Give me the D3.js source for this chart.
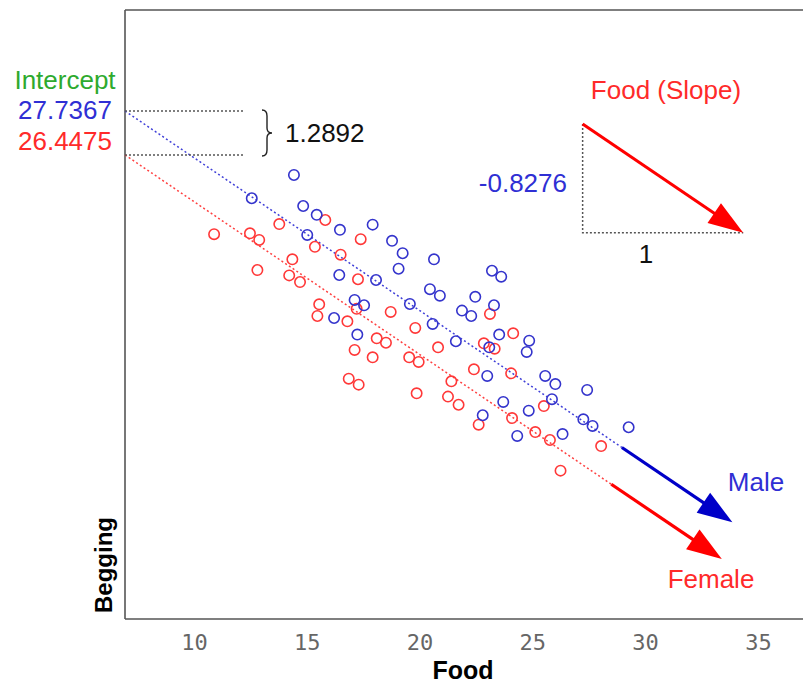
<!DOCTYPE html>
<html>
<head>
<meta charset="utf-8">
<script src="https://cdn.jsdelivr.net/npm/d3@7"></script>
<style>
  body { margin: 0; background: #fff; }
  svg { display: block; }
  text { font-family: "Liberation Sans", Arial, sans-serif; }
</style>
</head>
<body>
<svg id="chart" width="803" height="683"></svg>
<script>
// ---------- data ----------
const xTicks = [10, 15, 20, 25, 30, 35];

const maleFood = [14.43, 12.56, 14.84, 15.44, 16.47, 17.92, 15.02, 18.78, 19.25, 20.64,
  19.07, 16.44, 18.07, 22.47, 20.46, 20.90, 17.12, 17.54, 19.57, 21.88,
  22.29, 16.21, 20.58, 17.24, 21.61, 23.21, 23.62, 23.30, 23.53, 24.86,
  24.75, 23.09, 23.00, 25.57, 26.02, 27.43, 25.87, 23.71, 24.84, 22.80,
  27.26, 27.67, 29.27, 26.34, 24.33];
const maleBegging = [24.06, 22.80, 22.38, 21.90, 21.09, 21.37, 20.81, 20.49, 19.82, 19.49,
  18.98, 18.64, 18.37, 17.46, 17.87, 17.52, 17.29, 17.00, 17.07, 16.71,
  16.42, 16.31, 15.99, 15.41, 15.05, 18.87, 18.55, 17.00, 15.41, 15.08,
  14.47, 14.72, 13.17, 13.17, 12.73, 12.41, 11.91, 11.76, 11.29, 11.04,
  10.82, 10.46, 10.39, 10.02, 9.92];

const femaleFood = [10.89, 12.48, 12.89, 13.78, 15.82, 17.39, 15.36, 16.50, 14.36, 12.81,
  14.22, 14.70, 17.27, 18.72, 15.55, 15.47, 17.21, 16.80, 19.81, 18.10,
  18.51, 17.12, 17.92, 20.82, 19.54, 19.96, 22.41, 16.86, 17.30, 21.41,
  19.87, 21.26, 23.12, 24.15, 22.85, 23.33, 24.06, 21.73, 25.51, 24.10,
  22.62, 25.13, 25.78, 28.05, 26.25];
const femaleBegging = [20.85, 20.90, 20.54, 21.40, 21.62, 20.58, 20.17, 19.74, 19.49, 18.91,
  18.62, 18.26, 18.41, 16.64, 17.05, 16.42, 16.81, 16.13, 15.77, 15.21,
  14.97, 14.58, 14.18, 14.72, 14.18, 13.93, 13.53, 13.02, 12.70, 12.88,
  12.23, 12.05, 16.53, 15.48, 14.94, 14.65, 13.31, 11.61, 11.54, 10.89,
  10.53, 10.13, 9.70, 9.37, 8.04];

// fitted lines as drawn (in plot units): intercept, slope, dotted end, arrow tip
const groups = ["Male", "Female"];
const lineIntercept = [33.27, 30.89];
const lineSlope = [-0.8276, -0.8276];
const dottedEnd = [28.97, 28.5];
const arrowEnd = [33.87, 33.4];

// annotation texts
const interceptLabels = ["27.7367", "26.4475"];
const interceptDiffLabel = "1.2892";
const slopeLabel = "-0.8276";
const slopeRunLabel = "1";
const slopeTriangle = { x0: 27.23, x1: 34.35, yTop: 26.82 }; // plot units

// ---------- drawing ----------
const svg = d3.select("#chart");
const pLeft = 125, pRight = 803, pTop = 10, pBottom = 619;
const xMin = 6.94, xMax = 37.0;
const x = d3.scaleLinear().domain([xMin, xMax]).range([pLeft, pRight]);
const y = d3.scaleLinear().domain([0, 33]).range([pBottom, pTop]);

const BLUE = "#2f2fd4", RED = "#ff2a2a", GREEN = "#2eaa2e";
const colors = ["#3434cc", "#ff3838"];
const dotLineColors = ["#4040d8", "#ff4040"];
const arrowColors = ["#0000c8", "#ff0000"];
const FS = "26px";

// frame
const frame = svg.append("g").attr("stroke", "#555").attr("stroke-width", 1.6).attr("fill", "none");
frame.append("line").attr("x1", pLeft).attr("x2", pRight).attr("y1", pTop).attr("y2", pTop);
frame.append("line").attr("x1", pLeft).attr("x2", pLeft).attr("y1", pTop).attr("y2", pBottom);
frame.append("line").attr("x1", pLeft).attr("x2", pRight).attr("y1", pBottom).attr("y2", pBottom);

// x tick labels
const xAxis = d3.axisBottom(x).tickValues(xTicks).tickSize(0).tickPadding(0).tickFormat(d3.format("d"));
const gx = svg.append("g").attr("transform", `translate(0,${pBottom})`).call(xAxis);
gx.select(".domain").remove();
gx.selectAll("text")
  .attr("y", 31).attr("dy", 0)
  .style("font-family", "'DejaVu Sans Mono', 'Liberation Mono', monospace")
  .style("font-size", "22px")
  .attr("fill", "#666");

// axis titles
svg.append("text").attr("x", 463).attr("y", 679).attr("text-anchor", "middle")
  .style("font-size", "25px").style("font-weight", "bold").attr("fill", "#000").text("Food");
svg.append("text").attr("transform", "translate(112,565) rotate(-90)").attr("text-anchor", "middle")
  .style("font-size", "24px").style("font-weight", "bold").attr("fill", "#000").text("Begging");

// helper: arrow with filled head in pixel space
function arrow(g, x1, y1, x2, y2, color, width) {
  const dx = x2 - x1, dy = y2 - y1, L = Math.hypot(dx, dy);
  const ux = dx / L, uy = dy / L;
  const headLen = 35, halfW = 12;
  const bx = x2 - ux * headLen, by = y2 - uy * headLen;
  g.append("line").attr("x1", x1).attr("y1", y1)
    .attr("x2", x2 - ux * (headLen - 4)).attr("y2", y2 - uy * (headLen - 4))
    .attr("stroke", color).attr("stroke-width", width);
  g.append("path")
    .attr("d", `M${x2},${y2}L${bx - uy * halfW},${by + ux * halfW}L${bx + uy * halfW},${by - ux * halfW}Z`)
    .attr("fill", color);
}

// regression lines
const lines = svg.append("g");
groups.forEach((gname, i) => {
  const f = v => lineIntercept[i] + lineSlope[i] * v;
  lines.append("line")
    .attr("x1", x(xMin)).attr("y1", y(f(xMin)))
    .attr("x2", x(dottedEnd[i])).attr("y2", y(f(dottedEnd[i])))
    .attr("stroke", dotLineColors[i]).attr("stroke-width", 1.5)
    .attr("stroke-dasharray", "2,2.5");
  arrow(lines, x(dottedEnd[i]), y(f(dottedEnd[i])), x(arrowEnd[i]), y(f(arrowEnd[i])), arrowColors[i], 3.2);
});

// points
const series = [
  maleFood.map((d, i) => ({ f: d, b: maleBegging[i] })),
  femaleFood.map((d, i) => ({ f: d, b: femaleBegging[i] }))
];
[1, 0].forEach(i => {
  svg.append("g").selectAll("circle").data(series[i]).join("circle")
    .attr("cx", d => x(d.f)).attr("cy", d => y(d.b)).attr("r", 5.2)
    .attr("fill", "none").attr("stroke", colors[i]).attr("stroke-width", 1.6);
});

// intercept annotations
const yM = y(lineIntercept[0] + lineSlope[0] * xMin);
const yF = y(lineIntercept[1] + lineSlope[1] * xMin);
[yM, yF].forEach(yy => {
  svg.append("line").attr("x1", pLeft).attr("x2", 245).attr("y1", yy).attr("y2", yy)
    .attr("stroke", "#555").attr("stroke-width", 1.5).attr("stroke-dasharray", "2,2");
});
svg.append("text").attr("x", 65).attr("y", 89).attr("text-anchor", "middle")
  .style("font-size", FS).attr("fill", GREEN).text("Intercept");
svg.append("text").attr("x", 65).attr("y", 119).attr("text-anchor", "middle")
  .style("font-size", FS).attr("fill", BLUE).text(interceptLabels[0]);
svg.append("text").attr("x", 65).attr("y", 150).attr("text-anchor", "middle")
  .style("font-size", FS).attr("fill", RED).text(interceptLabels[1]);

// brace
(function () {
  const bx = 262, y0 = yM - 1, y1 = yF + 1, ym = (y0 + y1) / 2, w = 5;
  const d = `M${bx},${y0} Q${bx + w},${y0} ${bx + w},${y0 + 6}
             L${bx + w},${ym - 5} Q${bx + w},${ym} ${bx + 2 * w},${ym}
             Q${bx + w},${ym} ${bx + w},${ym + 5}
             L${bx + w},${y1 - 6} Q${bx + w},${y1} ${bx},${y1}`;
  svg.append("path").attr("d", d).attr("fill", "none").attr("stroke", "#222").attr("stroke-width", 1.4);
})();
svg.append("text").attr("x", 285).attr("y", 142)
  .style("font-size", FS).attr("fill", "#111").text(interceptDiffLabel);

// slope triangle
const tx0 = x(slopeTriangle.x0), tx1 = x(slopeTriangle.x1);
const ty0 = y(slopeTriangle.yTop);
const ty1 = y(slopeTriangle.yTop + lineSlope[0] * (slopeTriangle.x1 - slopeTriangle.x0));
svg.append("path").attr("d", `M${tx0},${ty0}L${tx0},${ty1}L${tx1},${ty1}`)
  .attr("fill", "none").attr("stroke", "#555").attr("stroke-width", 1.5).attr("stroke-dasharray", "2,2");
arrow(svg.append("g"), tx0, ty0, tx1, ty1, "#ff0000", 3);
svg.append("text").attr("x", 666).attr("y", 99).attr("text-anchor", "middle")
  .style("font-size", FS).attr("fill", RED).text("Food (Slope)");
svg.append("text").attr("x", 567).attr("y", 192).attr("text-anchor", "end")
  .style("font-size", FS).attr("fill", BLUE).text(slopeLabel);
svg.append("text").attr("x", 646).attr("y", 263).attr("text-anchor", "middle")
  .style("font-size", FS).attr("fill", "#111").text(slopeRunLabel);

// group labels
svg.append("text").attr("x", 756).attr("y", 491).attr("text-anchor", "middle")
  .style("font-size", FS).attr("fill", BLUE).text(groups[0]);
svg.append("text").attr("x", 711).attr("y", 588).attr("text-anchor", "middle")
  .style("font-size", FS).attr("fill", RED).text(groups[1]);
</script>
</body>
</html>
